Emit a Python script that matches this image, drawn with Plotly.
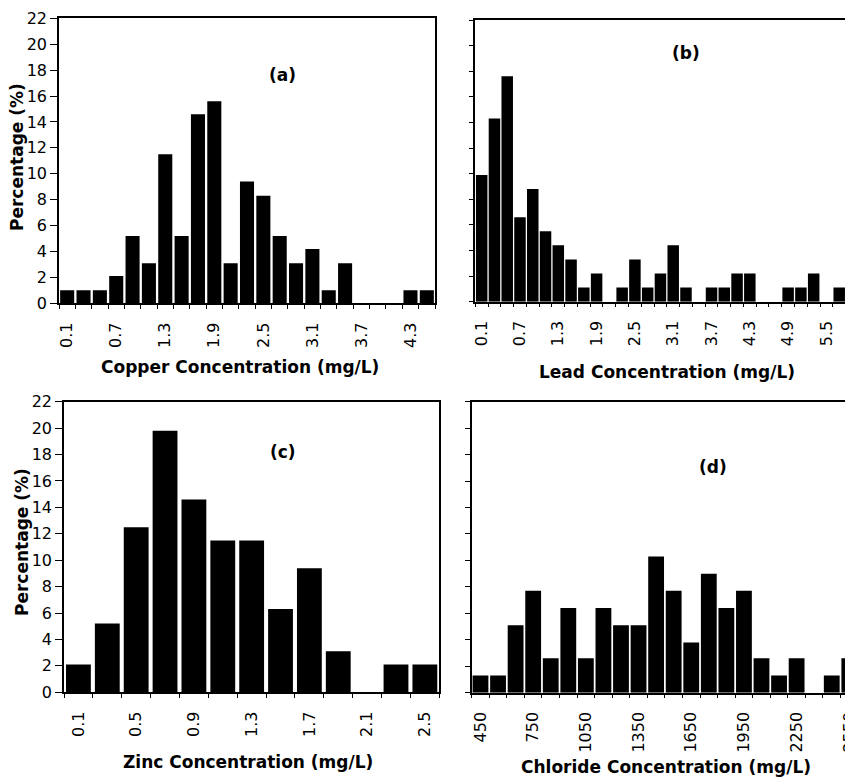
import plotly.graph_objects as go

# page body has an 8px margin; figure is sized to fit the 853x782 window exactly
OFF = 8
W, H = 853 - OFF, 782 - OFF

# ---------------- data ----------------
copper_bins = [0.1, 0.3, 0.5, 0.7, 0.9, 1.1, 1.3, 1.5, 1.7, 1.9, 2.1, 2.3,
               2.5, 2.7, 2.9, 3.1, 3.3, 3.5, 3.7, 3.9, 4.1, 4.3, 4.5]
copper_pct = [1.0, 1.0, 1.0, 2.1, 5.2, 3.1, 11.5, 5.2, 14.6, 15.6, 3.1, 9.4,
              8.3, 5.2, 3.1, 4.2, 1.0, 3.1, 0, 0, 0, 1.0, 1.0]
copper_ticks = ["0.1", "0.7", "1.3", "1.9", "2.5", "3.1", "3.7", "4.3"]

lead_bins = [0.1, 0.3, 0.5, 0.7, 0.9, 1.1, 1.3, 1.5, 1.7, 1.9, 2.1, 2.3, 2.5,
             2.7, 2.9, 3.1, 3.3, 3.5, 3.7, 3.9, 4.1, 4.3, 4.5, 4.7, 4.9, 5.1,
             5.3, 5.5, 5.7, 5.9]
lead_pct = [9.9, 14.3, 17.6, 6.6, 8.8, 5.5, 4.4, 3.3, 1.1, 2.2, 0, 1.1, 3.3,
            1.1, 2.2, 4.4, 1.1, 0, 1.1, 1.1, 2.2, 2.2, 0, 0, 1.1, 1.1,
            2.2, 0, 1.1, 1.1]
lead_ticks = ["0.1", "0.7", "1.3", "1.9", "2.5", "3.1", "3.7", "4.3", "4.9", "5.5"]

zinc_bins = [0.1, 0.3, 0.5, 0.7, 0.9, 1.1, 1.3, 1.5, 1.7, 1.9, 2.1, 2.3, 2.5]
zinc_pct = [2.1, 5.2, 12.5, 19.8, 14.6, 11.5, 11.5, 6.3, 9.4, 3.1, 0, 2.1, 2.1]
zinc_ticks = ["0.1", "0.5", "0.9", "1.3", "1.7", "2.1", "2.5"]

chloride_bins = [450, 550, 650, 750, 850, 950, 1050, 1150, 1250, 1350, 1450,
                 1550, 1650, 1750, 1850, 1950, 2050, 2150, 2250, 2350, 2450, 2550]
chloride_pct = [1.3, 1.3, 5.1, 7.7, 2.6, 6.4, 2.6, 6.4, 5.1, 5.1, 10.3,
                7.7, 3.8, 9.0, 6.4, 7.7, 2.6, 1.3, 2.6, 0, 1.3, 2.6]
chloride_ticks = ["450", "750", "1050", "1350", "1650", "1950", "2250", "2550"]

y_title = "Percentage (%)"
x_titles = ["Copper Concentration (mg/L)", "Lead Concentration (mg/L)",
            "Zinc Concentration (mg/L)", "Chloride Concentration (mg/L)"]
panel_labels = ["(a)", "(b)", "(c)", "(d)"]

# ---------------- styling ----------------
TICK_FONT = dict(family="DejaVu Sans", size=16, color="black")
TITLE_FONT = dict(family="DejaVu Sans", size=17, color="black")


def px(x):
    return (x - OFF) / W


def py(y):
    return 1 - (y - OFF) / H


def dx(a, b):
    return [max(0.0, px(a)), min(1.0, px(b))]


def dy(top, bottom):
    return [max(0.0, py(bottom)), min(1.0, py(top))]


panels = [
    dict(bins=copper_bins, vals=copper_pct, ticks=copper_ticks, step=0.2,
         xd=(59, 435), yd=(18.3, 303.3), xr=[0.0, 4.6], frac=0.86,
         full=True, ylabels=True),
    dict(bins=lead_bins, vals=lead_pct, ticks=lead_ticks, step=0.2,
         xd=(475.3, 853), yd=(20, 301.7), xr=[0.0, 5.916], frac=0.9,
         full=False, ylabels=False),
    dict(bins=zinc_bins, vals=zinc_pct, ticks=zinc_ticks, step=0.2,
         xd=(64, 439.3), yd=(401.7, 692.3), xr=[0.0, 2.6], frac=0.86,
         full=True, ylabels=True),
    dict(bins=chloride_bins, vals=chloride_pct, ticks=chloride_ticks, step=100,
         xd=(471.7, 853), yd=(401.7, 692.7), xr=[400, 2571], frac=0.9,
         full=False, ylabels=False),
]

fig = go.Figure()
layout = dict(
    width=W, height=H,
    margin=dict(l=0, r=0, t=0, b=0, pad=0, autoexpand=False),
    paper_bgcolor="white", plot_bgcolor="white",
    showlegend=False,
)

for i, p in enumerate(panels, start=1):
    sx = "" if i == 1 else str(i)
    fig.add_trace(go.Bar(
        x=p["bins"], y=p["vals"],
        width=p["step"] * p["frac"],
        marker=dict(color="black", line=dict(width=0)),
        xaxis="x" + sx, yaxis="y" + sx,
    ))
    layout["xaxis" + sx] = dict(
        domain=dx(*p["xd"]), range=p["xr"], anchor="y" + sx,
        automargin=False, ticklabeloverflow="allow",
        showline=True, linecolor="black", linewidth=1.5, mirror=True,
        tickmode="array", tickvals=[float(t) for t in p["ticks"]],
        ticktext=p["ticks"], ticks="outside", ticklen=11,
        tickcolor="rgba(0,0,0,0)", tickangle=-90, tickfont=TICK_FONT,
        showgrid=False, zeroline=False, fixedrange=True,
        minor=dict(tick0=p["xr"][0], dtick=p["step"], ticks="outside",
                   ticklen=4, tickwidth=1, tickcolor="black", showgrid=False),
    )
    layout["yaxis" + sx] = dict(
        domain=dy(*p["yd"]), range=[0, 22], anchor="x" + sx,
        automargin=False,
        tickmode="linear", tick0=0, dtick=2,
        showline=True, linecolor="black", linewidth=1.5, mirror=p["full"],
        ticks="outside", ticklen=7 if p["ylabels"] else 5, tickwidth=1,
        tickcolor="black", showticklabels=p["ylabels"], tickfont=TICK_FONT,
        showgrid=False, zeroline=False, fixedrange=True,
    )

annotations = []
for txt, (x, y) in zip(x_titles, [(240, 367), (667, 372), (248, 762), (666, 767)]):
    annotations.append(dict(text="<b>%s</b>" % txt, x=px(x), y=py(y),
                            xref="paper", yref="paper", showarrow=False,
                            xanchor="center", yanchor="middle", font=TITLE_FONT))
for (x, y) in [(17, 157), (22, 542)]:
    annotations.append(dict(text="<b>%s</b>" % y_title, x=px(x), y=py(y),
                            xref="paper", yref="paper", showarrow=False,
                            textangle=-90, xanchor="center", yanchor="middle",
                            font=TITLE_FONT))
for txt, (x, y) in zip(panel_labels, [(282, 75), (686, 53), (283, 452), (713, 467)]):
    annotations.append(dict(text="<b>%s</b>" % txt, x=px(x), y=py(y),
                            xref="paper", yref="paper", showarrow=False,
                            xanchor="center", yanchor="middle", font=TITLE_FONT))

layout["annotations"] = annotations
fig.update_layout(**layout)
fig.write_html("out.html")
